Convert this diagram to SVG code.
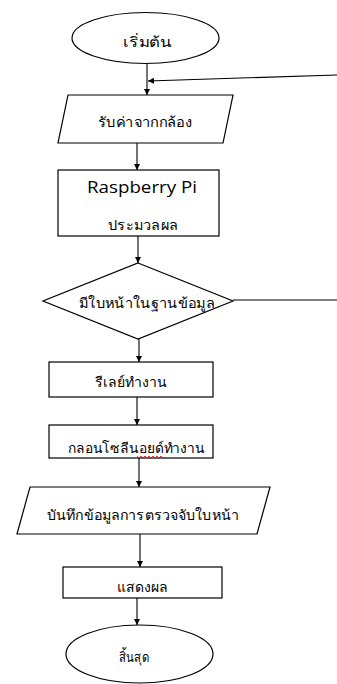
<svg xmlns="http://www.w3.org/2000/svg" width="337" height="684" viewBox="0 0 337 684">
<style>
.s{fill:#fff;stroke:#000;stroke-width:1.2}
.c{fill:none;stroke:#000;stroke-width:1.1}
.t{font-family:"Noto Sans","Liberation Sans",sans-serif;font-size:14px;fill:#000;text-anchor:middle}
.e{font-family:"Open Sans","Liberation Sans",sans-serif;font-size:17px;fill:#000;text-anchor:middle}
</style>
<defs>
<marker id="a" markerWidth="8" markerHeight="8" refX="6" refY="3" orient="auto" markerUnits="userSpaceOnUse">
<path d="M0,0 L6,3 L0,6 Z" fill="#000"/>
</marker>
</defs>
<g id="connectors">
<line class="c" x1="147" y1="64" x2="147" y2="95" marker-end="url(#a)"/>
<line class="c" x1="337" y1="75" x2="148" y2="81" marker-end="url(#a)"/>
<line class="c" x1="137" y1="143" x2="137" y2="170" marker-end="url(#a)"/>
<line class="c" x1="138" y1="236" x2="138" y2="263" marker-end="url(#a)"/>
<line class="c" x1="233" y1="300" x2="337" y2="300"/>
<line class="c" x1="139" y1="339" x2="139" y2="362" marker-end="url(#a)"/>
<line class="c" x1="137" y1="397" x2="137" y2="425" marker-end="url(#a)"/>
<line class="c" x1="139" y1="458" x2="139" y2="487" marker-end="url(#a)"/>
<line class="c" x1="140" y1="534" x2="140" y2="567" marker-end="url(#a)"/>
<line class="c" x1="137" y1="598" x2="137" y2="625" marker-end="url(#a)"/>
</g>
<g id="start">
<ellipse class="s" cx="145.5" cy="38" rx="73.5" ry="25.5"/>
<text class="t" x="147.5" y="47" textLength="49" lengthAdjust="spacingAndGlyphs">เริ่มต้น</text>
</g>
<g id="input">
<polygon class="s" points="68,95 233,95 223,143 58,143"/>
<text class="t" x="145" y="127" textLength="94" lengthAdjust="spacingAndGlyphs">รับค่าจากกล้อง</text>
</g>
<g id="process">
<rect class="s" x="58" y="170" width="161" height="66"/>
<text class="e" x="142" y="193" textLength="110" lengthAdjust="spacingAndGlyphs">Raspberry Pi</text>
<text class="t" x="143" y="230" textLength="70" lengthAdjust="spacingAndGlyphs">ประมวลผล</text>
</g>
<g id="decision">
<polygon class="s" points="138,263 233,301 138,339 43,301"/>
<text class="t" x="147" y="308" textLength="136" lengthAdjust="spacingAndGlyphs">มีใบหน้าในฐานข้อมูล</text>
</g>
<g id="relay">
<rect class="s" x="49" y="362" width="164" height="35"/>
<text class="t" x="131" y="387" textLength="72" lengthAdjust="spacingAndGlyphs">รีเลย์ทำงาน</text>
</g>
<g id="solenoid">
<rect class="s" x="49" y="425" width="164" height="33"/>
<text class="t" x="136.5" y="453" textLength="137" lengthAdjust="spacingAndGlyphs">กลอนโซลีนอยด์ทำงาน</text>
<polyline fill="none" stroke="#e00" stroke-width="0.8" points="137,456 139,458 141,456 143,458 145,456 147,458 149,456 151,458 153,456 155,458 157,456 159,458 161,456 163,458"/>
</g>
<g id="record">
<polygon class="s" points="30,487 270,487 257,534 17,534"/>
<text class="t" x="143" y="520" textLength="192" lengthAdjust="spacingAndGlyphs">บันทึกข้อมูลการตรวจจับใบหน้า</text>
</g>
<g id="display">
<rect class="s" x="63" y="567" width="159" height="31"/>
<text class="t" x="142.5" y="592" textLength="51" lengthAdjust="spacingAndGlyphs">แสดงผล</text>
</g>
<g id="end">
<ellipse class="s" cx="139.5" cy="654" rx="73.5" ry="29"/>
<text class="t" x="134" y="662" textLength="30" lengthAdjust="spacingAndGlyphs">สิ้นสุด</text>
</g>
</svg>
